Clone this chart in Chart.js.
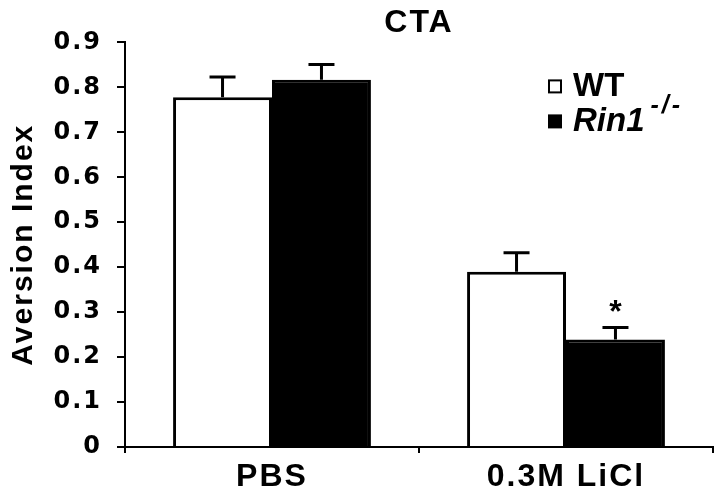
<!DOCTYPE html>
<html><head><meta charset="utf-8">
<script src="https://cdn.jsdelivr.net/npm/chart.js@4.4.1/dist/chart.umd.min.js"></script>
<style>html,body{margin:0;padding:0;background:#fff;} canvas{display:block;}</style>
</head><body>
<canvas id="c" width="720" height="498"></canvas>
<script>
const categories = ['PBS', '0.3M LiCl'];
const seriesNames = ['WT', 'Rin1'];
const seriesSuperscripts = ['', '-/-'];
const wtValues = [0.778, 0.390];
const wtErrors = [0.045, 0.042];
const rin1Values = [0.817, 0.239];
const rin1Errors = [0.034, 0.027];
const rin1Marks = ['', '*'];
const yTickLabels = ['0', '0.1', '0.2', '0.3', '0.4', '0.5', '0.6', '0.7', '0.8', '0.9'];
const chartTitle = 'CTA';
const yAxisTitle = 'Aversion Index';

const SANS = '"Liberation Sans", Arial, sans-serif';

const spacingPlugin = {
  id: 'spacing',
  beforeInit(chart) { chart.ctx.letterSpacing = '2px'; },
  beforeUpdate(chart) { chart.ctx.letterSpacing = '2px'; },
  beforeLayout(chart) { chart.ctx.letterSpacing = '2px'; },
  beforeDraw(chart) { chart.ctx.letterSpacing = '2px'; }
};

const errorBarPlugin = {
  id: 'errorBars',
  afterDatasetsDraw(chart) {
    const ctx = chart.ctx;
    const y = chart.scales.y;
    chart.data.datasets.forEach((ds, i) => {
      const meta = chart.getDatasetMeta(i);
      meta.data.forEach((bar, j) => {
        const v = ds.data[j], e = ds.errors[j];
        const yBase = y.getPixelForValue(v);
        const yTop = y.getPixelForValue(v + e);
        ctx.save();
        ctx.strokeStyle = '#000';
        ctx.lineWidth = 3;
        ctx.beginPath();
        ctx.moveTo(bar.x, yBase);
        ctx.lineTo(bar.x, yTop);
        ctx.moveTo(bar.x - 13, yTop);
        ctx.lineTo(bar.x + 13, yTop);
        ctx.stroke();
        if (ds.marks && ds.marks[j]) {
          ctx.letterSpacing = '0px';
          ctx.fillStyle = '#000';
          ctx.font = 'bold 32px ' + SANS;
          ctx.textAlign = 'center';
          ctx.textBaseline = 'alphabetic';
          ctx.fillText(ds.marks[j], bar.x, yTop - 5);
        }
        ctx.restore();
      });
    });
  }
};

const legendPlugin = {
  id: 'customLegend',
  afterDraw(chart) {
    const ctx = chart.ctx;
    const ca = chart.chartArea;
    const x0 = ca.right - 165;
    const rows = [ca.top + 37, ca.top + 72];
    ctx.save();
    ctx.letterSpacing = '0px';
    chart.data.datasets.forEach((ds, i) => {
      const ry = rows[i];
      if (ds.backgroundColor === '#ffffff') {
        ctx.fillStyle = '#fff';
        ctx.fillRect(x0, ry, 14, 14);
        ctx.strokeStyle = '#000';
        ctx.lineWidth = 2;
        ctx.strokeRect(x0 + 1, ry + 1, 12, 12);
      } else {
        ctx.fillStyle = '#000';
        ctx.fillRect(x0, ry, 14, 14);
      }
      ctx.fillStyle = '#000';
      ctx.textAlign = 'left';
      ctx.textBaseline = 'alphabetic';
      const italic = i === 1 ? 'italic ' : '';
      ctx.font = italic + 'bold 33px ' + SANS;
      const tx = x0 + 25;
      const base = ry + 17;
      ctx.fillText(seriesNames[i], tx, base);
      if (seriesSuperscripts[i]) {
        const w = ctx.measureText(seriesNames[i]).width;
        ctx.font = 'italic bold 25px ' + SANS;
        ctx.letterSpacing = '3px';
        ctx.fillText(seriesSuperscripts[i], tx + w + 6, base - 18);
        ctx.letterSpacing = '0px';
      }
    });
    ctx.restore();
  }
};

new Chart(document.getElementById('c'), {
  type: 'bar',
  data: {
    labels: categories,
    datasets: [
      {
        label: seriesNames[0],
        data: wtValues,
        errors: wtErrors,
        backgroundColor: '#ffffff',
        borderColor: '#000000',
        borderWidth: 3,
        borderSkipped: 'bottom'
      },
      {
        label: seriesNames[1],
        data: rin1Values,
        errors: rin1Errors,
        marks: rin1Marks,
        backgroundColor: '#000000',
        borderColor: '#000000',
        borderWidth: 3,
        borderSkipped: 'bottom'
      }
    ]
  },
  options: {
    responsive: false,
    animation: false,
    events: [],
    layout: { padding: { left: 0, right: 7, top: 0, bottom: 0 } },
    datasets: { bar: { categoryPercentage: 0.673, barPercentage: 1.0 } },
    plugins: {
      legend: { display: false },
      tooltip: { enabled: false },
      title: {
        display: true,
        text: chartTitle,
        fullSize: false,
        color: '#000',
        font: { family: SANS, size: 32, weight: 'bold' },
        padding: { top: 4, bottom: 0 }
      }
    },
    scales: {
      x: {
        offset: true,
        grid: {
          offset: true,
          drawOnChartArea: false,
          drawTicks: true,
          tickLength: 6,
          color: '#000',
          lineWidth: 2
        },
        border: { display: true, color: '#000', width: 2 },
        ticks: {
          color: '#000',
          font: { family: SANS, size: 32, weight: 'bold' },
          padding: 5,
          maxRotation: 0,
          autoSkip: false
        },
        afterFit(scale) { scale.height = 51; }
      },
      y: {
        min: 0,
        max: 0.9,
        ticks: {
          stepSize: 0.1,
          color: '#000',
          font: { family: 'DejaVu Sans', size: 24, weight: 'bold' },
          padding: 15,
          callback: (v, i) => yTickLabels[i]
        },
        grid: {
          drawOnChartArea: false,
          drawTicks: true,
          tickLength: 8,
          color: '#000',
          lineWidth: 2
        },
        border: { display: true, color: '#000', width: 2 },
        title: {
          display: true,
          text: yAxisTitle,
          color: '#000',
          font: { family: SANS, size: 30, weight: 'bold' },
          padding: { top: 6, bottom: 0 }
        },
        afterFit(scale) { scale.width = 125; }
      }
    }
  },
  plugins: [spacingPlugin, errorBarPlugin, legendPlugin]
});
</script>
</body></html>
